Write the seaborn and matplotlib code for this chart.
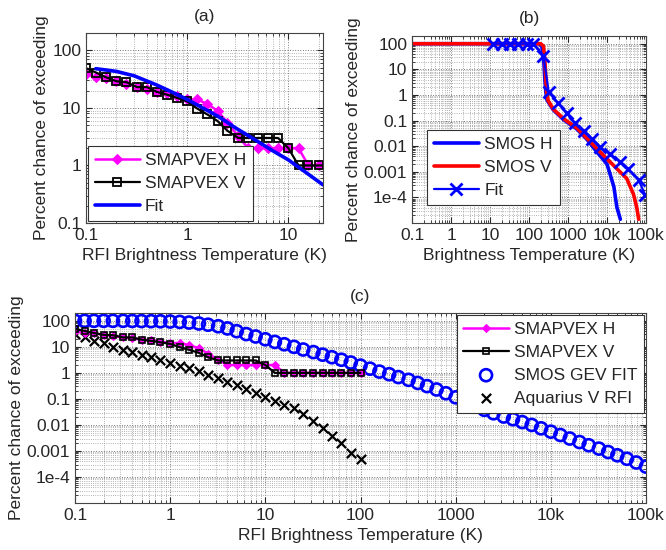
import numpy as np
import pandas as pd
import matplotlib
matplotlib.use("Agg")
import matplotlib.pyplot as plt
from matplotlib.ticker import FixedLocator, FixedFormatter, LogLocator, NullFormatter
import seaborn as sns

# temperature grid shared by SMAPVEX and Aquarius (K)
temp_grid = [0.1, 0.126, 0.158, 0.2, 0.25, 0.32, 0.4, 0.5, 0.63, 0.79,
             1, 1.26, 1.58, 2, 2.5, 3.2, 4, 5, 6.3, 7.9,
             10, 12.6, 15.8, 20, 25, 32, 40, 50, 63, 79, 100]

smapvex_h = [39, 34, 33, 29, 26, 23, 21, 19, 18, 16,
             14, 14, 11.7, 8.9, 5.5, 3.2, 2, 2, 2, 2,
             2, 2, 1, 1, 1, 1, 1, 1, 1, 1, 1]
smapvex_v = [49, 41, 34, 29, 28, 23, 23, 19, 17, 15,
             13, 9.7, 7.7, 5.9, 4.0, 3, 3, 3, 3, 3,
             2, 1, 1, 1, 1, 1, 1, 1, 1, 1, 1]

aquarius_v = [32, 23, 17.4, 13.5, 10, 7.8, 6.3, 4.9, 3.9, 3.1,
              2.45, 1.9, 1.48, 1.15, 0.85, 0.63, 0.46, 0.33, 0.24, 0.17,
              0.12, 0.085, 0.060, 0.045, 0.026, 0.0145, 0.0076, 0.0038, 0.0021, 0.00083,
              0.0005]

# fit in panel (a)
fit_a_t = [0.125, 0.2, 0.3, 0.5, 0.7, 1, 1.5, 2, 3, 5, 7, 10, 15, 22]
fit_a_p = [48, 43, 36, 25, 19, 14, 9.5, 7.2, 4.5, 2.6, 1.8, 1.25, 0.75, 0.46]

# panel (b)
smos_h_t = [0.1, 180, 215, 240, 255, 270, 290, 420, 760, 1700, 3000, 5500, 10000, 15000, 18000, 22000]
smos_h_p = [100, 100, 75, 20, 4, 1.3, 0.63, 0.26, 0.11, 0.046, 0.019, 0.006, 0.002, 2.6e-4, 4e-5, 1.4e-5]
smos_v_t = [0.1, 200, 235, 255, 270, 285, 310, 420, 760, 1700, 3000, 5500, 10000, 18000, 32000, 48000, 58000, 65000]
smos_v_p = [100, 100, 80, 25, 4, 1.2, 0.6, 0.28, 0.12, 0.05, 0.021, 0.008, 0.0032, 0.0013, 5.5e-4, 1.3e-4, 4e-5, 1.4e-5]
fit_b_t = [12, 20, 32, 53, 87, 130, 235, 320, 560, 930, 1500, 2500, 4100, 6600, 12000, 22000, 35000, 65000, 95000]
fit_b_p = [100, 100, 100, 100, 100, 100, 34, 1.3, 0.48, 0.19, 0.08, 0.039, 0.019, 0.009, 0.005, 0.0024, 0.0013, 4.7e-4, 1.26e-4]

# SMOS GEV fit in panel (c)
gev_t = [0.1, 0.126, 0.158, 0.2, 0.25, 0.32, 0.4, 0.5, 0.63, 0.79,
         1, 1.26, 1.58, 2, 2.5, 3.2, 4, 5, 6.3, 7.9,
         10, 12.6, 15.8, 20, 25, 32, 40, 50, 63, 79,
         100, 126, 158, 200, 250, 320, 400, 500, 630, 790,
         1000, 1260, 1580, 2000, 2500, 3200, 4000, 5000, 6300, 7900,
         10000, 12600, 15800, 20000, 25000, 32000, 40000, 50000, 63000, 79000,
         100000]
gev_p = [100, 100, 100, 100, 100, 100, 99, 98, 97, 96,
         94, 91, 86, 79, 71, 62, 51, 40, 31, 25,
         19.5, 15.5, 12.6, 10, 7.9, 6.3, 5.0, 4.0, 3.2, 2.5,
         1.9, 1.45, 1.12, 0.89, 0.69, 0.54, 0.41, 0.31, 0.23, 0.165,
         0.115, 0.08, 0.055, 0.038, 0.028, 0.021, 0.0166, 0.0129, 0.0100, 0.0074,
         0.0055, 0.0041, 0.0030, 0.0022, 0.00166, 0.00123, 0.00091, 0.00068, 0.00050, 0.00036,
         0.00025]

wide_ticks = [0.1, 1, 10, 100, 1000, 1e4, 1e5]
wide_labels = ["0.1", "1", "10", "100", "1000", "10k", "100k"]
deep_ticks = [1e-4, 1e-3, 0.01, 0.1, 1, 10, 100]
deep_labels = ["1e-4", "0.001", "0.01", "0.1", "1", "10", "100"]

sns.set_style("ticks")
plt.rcParams["font.family"] = ["Liberation Sans", "DejaVu Sans"]
plt.rcParams["font.size"] = 12

fig = plt.figure(figsize=(6.66, 5.5), dpi=100)
ax_a = fig.add_axes([86 / 666, 1 - 223 / 550, 237 / 666, 190 / 550])
ax_b = fig.add_axes([412 / 666, 1 - 223 / 550, 234 / 666, 187 / 550])
ax_c = fig.add_axes([75 / 666, 1 - 503 / 550, 571 / 666, 190 / 550])


def style(ax, xlim, ylim, xt, xl, yt, yl, xlabel, title):
    ax.set_xscale("log")
    ax.set_yscale("log")
    ax.set_xlim(*xlim)
    ax.set_ylim(*ylim)
    ax.xaxis.set_major_locator(FixedLocator(xt))
    ax.xaxis.set_major_formatter(FixedFormatter(xl))
    ax.yaxis.set_major_locator(FixedLocator(yt))
    ax.yaxis.set_major_formatter(FixedFormatter(yl))
    for axis in (ax.xaxis, ax.yaxis):
        axis.set_minor_locator(LogLocator(base=10, subs=np.arange(2, 10), numticks=100))
        axis.set_minor_formatter(NullFormatter())
    ax.tick_params(which="both", direction="in", top=True, right=True, labelsize=12.5)
    ax.tick_params(which="major", length=4)
    ax.tick_params(which="minor", length=2)
    ax.grid(True, which="major", linestyle=":", color="#777777", linewidth=0.7)
    ax.grid(True, which="minor", linestyle=":", color="#999999", linewidth=0.6)
    for s in ax.spines.values():
        s.set_color("#444444")
        s.set_linewidth(0.8)
    ax.set_xlabel(xlabel, fontsize=12.5, labelpad=4)
    ax.set_ylabel("Percent chance of exceeding", fontsize=12.5, labelpad=2)
    ax.set_title(title, fontsize=12.5, pad=9)


def legend(ax, **kw):
    leg = ax.legend(fontsize=12.5, frameon=True, fancybox=False, framealpha=1,
                    edgecolor="#333333", handlelength=2.6, handletextpad=0.3,
                    labelspacing=0.45, borderpad=0.4, **kw)
    leg.get_frame().set_linewidth(0.8)


# panel (a)
df_s = pd.DataFrame({"t": temp_grid, "h": smapvex_h, "v": smapvex_v, "aq": aquarius_v})
df_fa = pd.DataFrame({"t": fit_a_t, "p": fit_a_p})
sns.lineplot(data=df_s, x="t", y="h", ax=ax_a, color="#ff00ff", lw=1.8, marker="D",
             markersize=5, mec="#ff00ff", mfc="#ff00ff", label="SMAPVEX H")
sns.lineplot(data=df_s, x="t", y="v", ax=ax_a, color="black", lw=1.6, marker="s",
             markersize=5.5, mec="black", mfc="none", mew=1.3, label="SMAPVEX V")
sns.lineplot(data=df_fa, x="t", y="p", ax=ax_a, color="#0000ff", lw=2.6, label="Fit")
style(ax_a, (0.1, 22), (0.1, 200), [0.1, 1, 10], ["0.1", "1", "10"],
      [0.1, 1, 10, 100], ["0.1", "1", "10", "100"], "RFI Brightness Temperature (K)", "(a)")
legend(ax_a, loc="lower left", borderaxespad=0.1)

# panel (b)
df_h = pd.DataFrame({"t": smos_h_t, "p": smos_h_p})
df_v = pd.DataFrame({"t": smos_v_t, "p": smos_v_p})
df_fb = pd.DataFrame({"t": fit_b_t, "p": fit_b_p})
sns.lineplot(data=df_h, x="t", y="p", ax=ax_b, color="#0000ff", lw=2.6, label="SMOS H")
sns.lineplot(data=df_v, x="t", y="p", ax=ax_b, color="#ff0000", lw=2.6, label="SMOS V")
sns.lineplot(data=df_fb, x="t", y="p", ax=ax_b, color="#0000ff", lw=1.6, marker="x",
             markersize=8, mew=2, mec="#0000ff", label="Fit")
style(ax_b, (0.1, 1e5), (1e-5, 200), wide_ticks, wide_labels, deep_ticks, deep_labels,
      "Brightness Temperature (K)", "(b)")
legend(ax_b, loc="lower left", bbox_to_anchor=(0.064, 0.096), borderaxespad=0)

# panel (c)
df_g = pd.DataFrame({"t": gev_t, "p": gev_p})
sns.lineplot(data=df_s, x="t", y="h", ax=ax_c, color="#ff00ff", lw=1.8, marker="D",
             markersize=4, mec="#ff00ff", mfc="#ff00ff", label="SMAPVEX H")
sns.lineplot(data=df_s, x="t", y="v", ax=ax_c, color="black", lw=1.6, marker="s",
             markersize=4, mec="black", mfc="none", mew=1.2, label="SMAPVEX V")
sns.scatterplot(data=df_g, x="t", y="p", ax=ax_c, marker="o", s=75, facecolors="none",
                edgecolor="#0000ff", linewidth=1.9, label="SMOS GEV FIT")
sns.scatterplot(data=df_s, x="t", y="aq", ax=ax_c, marker="x", s=45, color="black",
                linewidth=1.6, label="Aquarius V RFI")
style(ax_c, (0.1, 1e5), (1e-5, 200), wide_ticks, wide_labels, deep_ticks, deep_labels,
      "RFI Brightness Temperature (K)", "(c)")
legend(ax_c, loc="upper right", borderaxespad=0.1)

fig.savefig("out.png", dpi=100)
